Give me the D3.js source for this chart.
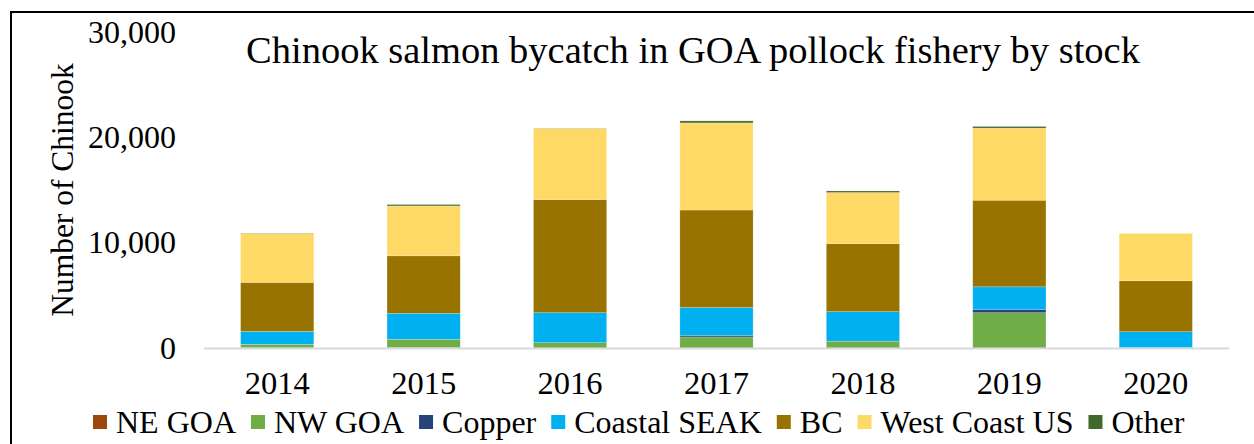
<!DOCTYPE html>
<html>
<head>
<meta charset="utf-8">
<script src="https://cdn.jsdelivr.net/npm/d3@7"></script>
<style>
  body { margin: 0; background: #fff; }
  svg text { font-family: 'Liberation Serif', 'Times New Roman', 'DejaVu Serif', serif; fill: #000; }
</style>
</head>
<body>
<script>
const years = ["2014", "2015", "2016", "2017", "2018", "2019", "2020"]
const stocks = ["NE GOA", "NW GOA", "Copper", "Coastal SEAK", "BC", "West Coast US", "Other"]
const stockColors = ["#9e480e", "#70ad47", "#264478", "#00b0f0", "#997300", "#ffd966", "#43682b"]

// one array per stock, one value per year
const neGoa   = [20, 40, 0, 0, 0, 0, 0]
const nwGoa   = [330, 785, 500, 1050, 650, 3350, 30]
const copper  = [0, 0, 0, 150, 0, 320, 0]
const seak    = [1230, 2465, 2850, 2650, 2800, 2140, 1515]
const bc      = [4650, 5460, 10740, 9250, 6450, 8220, 4835]
const wcus    = [4640, 4740, 6760, 8270, 4860, 6850, 4490]
const other   = [30, 130, 20, 190, 150, 150, 0]
const yTicks  = [0, 10000, 20000, 30000]

const seriesValues = [neGoa, nwGoa, copper, seak, bc, wcus, other]

const table = years.map((yr, i) => {
  const row = { year: yr }
  stocks.forEach((s, j) => row[s] = seriesValues[j][i])
  return row
})

const W = 1254, H = 444
const FONT = "'Liberation Serif', 'Times New Roman', serif"

const svg = d3.select("body")
              .append("svg")
              .attr("width", W)
              .attr("height", H)

// outer frame (runs off the right and bottom edges)
svg.append("rect")
   .attr("x", 11)
   .attr("y", 12)
   .attr("width", 1300)
   .attr("height", 500)
   .attr("fill", "none")
   .attr("stroke", "#000")
   .attr("stroke-width", 2)

const x = d3.scaleBand()
            .domain(years)
            .range([204, 1229])
            .paddingInner(0.5)
            .paddingOuter(0.25)

const y = d3.scaleLinear()
            .domain([0, 30000])
            .range([348, 32])

const stack = d3.stack().keys(stocks)(table)

svg.append("g")
   .selectAll("g")
   .data(stack)
   .enter()
   .append("g")
   .attr("fill", (d, i) => stockColors[i])
   .selectAll("rect")
   .data(d => d)
   .enter()
   .append("rect")
   .attr("x", d => x(d.data.year))
   .attr("width", x.bandwidth())
   .attr("y", d => y(d[1]))
   .attr("height", d => y(d[0]) - y(d[1]))
   .attr("stroke", "#fff")
   .attr("stroke-opacity", 0.35)
   .attr("stroke-width", 0.6)

// baseline
svg.append("line")
   .attr("x1", x.range()[0])
   .attr("x2", x.range()[1])
   .attr("y1", y(0) + 0.5)
   .attr("y2", y(0) + 0.5)
   .attr("stroke", "#d9d9d9")
   .attr("stroke-width", 2)

const yAxis = d3.axisLeft(y)
                .tickValues(yTicks)
                .tickSize(0)
                .tickPadding(0)
                .tickFormat(d3.format(","))

svg.append("g")
   .attr("transform", "translate(176,0)")
   .call(yAxis)
   .call(g => g.select(".domain").remove())
   .attr("font-family", FONT)
   .selectAll("text")
   .style("font-family", FONT)
   .style("font-size", "32px")
   .attr("fill", "#000")

const xAxis = d3.axisBottom(x)
                .tickSize(0)
                .tickPadding(23)

svg.append("g")
   .attr("transform", `translate(0,${y(0)})`)
   .call(xAxis)
   .call(g => g.select(".domain").remove())
   .attr("font-family", FONT)
   .selectAll("text")
   .style("font-family", FONT)
   .style("font-size", "32.5px")
   .attr("fill", "#000")

svg.append("text")
   .attr("x", 693)
   .attr("y", 63)
   .attr("text-anchor", "middle")
   .style("font-family", FONT)
   .style("font-size", "38.5px")
   .text("Chinook salmon bycatch in GOA pollock fishery by stock")

svg.append("text")
   .attr("transform", "translate(73,190) rotate(-90)")
   .attr("text-anchor", "middle")
   .style("font-family", FONT)
   .style("font-size", "31.5px")
   .text("Number of Chinook")

// legend
const legend = svg.append("g")
                  .attr("id", "legend")

let lx = 93
stocks.forEach((s, i) => {
  const item = legend.append("g")
  item.append("rect")
      .attr("x", lx)
      .attr("y", 415)
      .attr("width", 14)
      .attr("height", 14)
      .attr("fill", stockColors[i])
  const t = item.append("text")
      .attr("x", lx + 23)
      .attr("y", 433)
      .style("font-family", FONT)
      .style("font-size", "32px")
      .text(s)
  lx += 23 + t.node().getComputedTextLength() + 15
})
</script>
</body>
</html>
